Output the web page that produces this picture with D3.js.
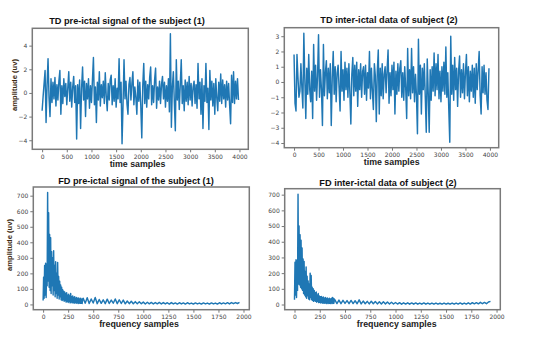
<!DOCTYPE html>
<html>
<head>
<meta charset="utf-8">
<script src="https://cdn.jsdelivr.net/npm/d3@7"></script>
<style>
  html, body { margin: 0; padding: 0; background: #fff; }
  svg { display: block; }
  .tick text { font-family: "DejaVu Sans", sans-serif; font-size: 6px; fill: #444; }
  .tick line { stroke: #777; }
  .domain { display: none; }
  .title, .xlab, .ylab { font-family: "Liberation Sans", Arial, sans-serif; font-weight: bold; }
</style>
</head>
<body>
<div id="chart"></div>
<script>
// time-domain signals, one value every TD_STEP samples
const TD_STEP = 20
const tdPre = [
  -1.5, -0.3, 0.8, 1.9, -2.5, 0.6, 2.9, -0.4, -2.0, 1.2,
  -0.8, 0.9, -0.5, 1.3, -1.1, 0.7, -0.6, 1.0, 1.9, -1.8,
  0.6, -0.9, 1.2, -0.3, 0.8, -1.0, 0.4, 1.8, -0.7, 0.9,
  -1.2, 0.5, 1.4, -0.8, 0.6, -3.9, 0.7, -0.9, 1.1, -3.0,
  0.4, 2.2, -0.6, 1.0, -2.0, 0.8, -0.5, 1.2, -1.3, 0.6,
  -0.8, 1.1, 3.0, -1.0, 0.5, -2.5, 0.9, -0.6, 1.8, -1.1,
  0.7, -0.4, 1.0, -0.9, 1.7, -0.3, -1.5, 0.8, -0.6, 1.1,
  1.5, -1.0, 0.6, -0.7, 1.2, -1.2, 0.4, -0.5, 2.9, -0.8,
  0.9, -4.3, -1.0, 2.8, -0.5, 1.0, -0.9, -1.8, 0.7, 1.3,
  -0.6, 0.8, 1.8, -1.0, 0.5, -0.4, -1.8, 1.1, -0.7, 0.9,
  -1.1, -3.8, 0.6, 2.5, -0.9, 1.0, -1.2, 0.7, -0.5, 1.3,
  2.2, -1.0, 0.6, -0.8, 1.1, 2.1, -1.3, 0.5, -0.6, 1.0,
  -0.9, 0.7, 1.4, -0.5, 0.9, -1.2, 0.6, -0.7, 1.2, -1.6,
  5.0, -2.9, 0.5, 1.8, -0.8, -3.2, 2.8, -0.6, 1.0, -1.4,
  0.7, 2.8, -0.9, 0.6, -1.5, 1.1, -0.7, 0.9, -1.0, 1.4,
  -0.6, 0.8, -1.1, 0.5, 1.0, -0.9, 0.7, -1.3, 2.5, -0.5,
  0.9, -1.8, 1.2, -3.0, 0.6, -0.7, 2.5, -0.8, 0.4, -3.1,
  1.9, -0.6, 1.0, -1.1, 0.8, -1.8, 1.2, -0.4, -1.5, 0.9,
  -0.7, 1.6, -0.9, 1.1, -0.5, 0.7, -1.2, 1.0, -0.6, 0.8,
  -1.0, -2.6, 1.5, -0.8, 1.8, -0.9, 1.0, -0.5, 1.2, -0.6
]
const tdInter = [
  1.8, -1.4, -1.9, 1.8, 0.3, -1.0, -0.6, 1.2, -0.4, -1.7,
  3.2, 0.2, -2.4, 0.9, -0.8, 1.8, -0.5, -1.3, 0.7, -2.4,
  2.45, -0.6, 1.1, -1.2, 0.4, 3.1, -1.0, 0.8, -0.5, -2.85,
  2.45, -0.9, 0.6, 1.4, -1.1, 0.9, -0.7, 1.2, -2.85, 0.3,
  2.0, -0.8, 1.0, -1.3, 0.6, 1.1, -0.4, -1.9, 2.0, -0.6,
  0.8, -1.2, 1.3, -0.5, 0.9, -1.0, 1.2, -0.7, -2.75, 0.5,
  1.6, -0.9, 1.1, -0.6, 1.3, -1.6, 0.8, -0.5, 1.2, -1.0,
  0.7, 1.0, -0.8, 1.1, -1.2, 0.6, -0.4, 2.0, -1.1, 0.9,
  -0.6, -1.8, 1.2, 0.4, -2.6, 0.7, 2.1, -2.1, 0.9, -0.9,
  1.2, -1.1, 0.5, 1.0, -0.7, 0.8, 2.1, -1.4, 0.6, -0.9,
  1.1, -0.5, 1.3, -2.1, 0.7, -0.8, 1.2, -0.6, 0.9, 1.4,
  -1.0, 0.6, -1.2, 1.0, -0.4, -2.4, 2.2, -0.9, 0.8, -1.1,
  2.2, -0.7, 1.0, -1.3, 0.5, -0.9, -3.4, 2.8, -0.8, 1.1,
  -2.1, 0.9, -0.5, 1.2, -1.0, -3.3, 1.5, -0.7, -3.3, 0.8,
  -1.2, 1.0, -0.6, 1.9, -0.9, 1.2, -0.5, 1.8, -1.1, 0.7,
  -1.3, 1.0, -0.6, 1.3, -0.8, 2.3, -1.0, 0.6, -1.8, -3.95,
  3.0, -0.8, 1.1, -1.2, 1.6, -0.5, 0.9, -1.6, 0.7, 1.7,
  -1.0, 0.8, -0.7, 1.2, -1.1, 0.6, 1.8, -0.9, 1.0, -1.3,
  0.7, -0.6, 1.1, -1.0, 0.9, -1.4, 1.2, -0.5, 0.8, 2.0,
  -0.9, -2.1, 1.0, -0.7, 1.1, -0.8, 0.6, -1.2, -1.8, 0.9
]

// frequency-domain spectra: fine steps near the peak, coarse steps in the tail
const HEAD_STEP = 5
const TAIL_START = 400
const TAIL_STEP = 20
const fdPreHead = [
  25, 175, 40, 250, 60, 265, 45, 260, 120, 720,
  150, 590, 110, 450, 90, 430, 70, 340, 120, 300,
  60, 345, 90, 250, 50, 275, 70, 200, 40, 270,
  60, 180, 35, 150, 50, 125, 30, 110, 25, 95,
  30, 85, 20, 80, 25, 70, 15, 75, 20, 60,
  12, 65, 18, 55, 10, 70, 15, 50, 10, 55,
  12, 45, 8, 50, 12, 40, 8, 45, 10, 38,
  6, 42, 9, 35, 7, 40, 8, 33, 6, 37
]
const fdPreTail = [
  40, 8, 43, 6, 35, 9, 45, 5, 32, 7,
  30, 5, 34, 6, 28, 8, 35, 5, 30, 6,
  28, 4, 22, 5, 20, 4, 18, 5, 17, 4,
  15, 3, 14, 4, 13, 3, 12, 4, 13, 3,
  12, 3, 11, 2, 12, 3, 10, 2, 11, 3,
  10, 2, 11, 3, 9, 2, 10, 3, 9, 2,
  10, 3, 9, 2, 10, 3, 9, 2, 11, 3,
  10, 4, 11, 3, 12, 5, 12, 6, 13
]
const fdInterHead = [
  30, 270, 60, 285, 45, 280, 90, 703, 130, 500,
  125, 445, 110, 410, 100, 360, 90, 290, 70, 275,
  60, 210, 50, 240, 40, 180, 55, 150, 35, 130,
  30, 200, 45, 185, 30, 110, 25, 100, 20, 90,
  25, 75, 20, 80, 15, 60, 20, 70, 12, 55,
  15, 50, 10, 52, 12, 45, 8, 48, 10, 40,
  8, 45, 10, 38, 6, 42, 9, 35, 7, 40,
  8, 36, 6, 38, 9, 45, 7, 40, 8, 35
]
const fdInterTail = [
  30, 6, 28, 5, 27, 7, 25, 5, 26, 6,
  24, 5, 30, 4, 22, 5, 20, 4, 21, 5,
  19, 4, 18, 3, 17, 4, 16, 3, 15, 3,
  13, 3, 12, 2, 11, 3, 11, 2, 10, 2,
  10, 2, 9, 2, 10, 2, 9, 2, 9, 2,
  9, 2, 8, 2, 9, 2, 8, 2, 9, 2,
  9, 3, 10, 2, 9, 3, 11, 3, 12, 4,
  12, 4, 14, 5, 13, 5, 16, 20
]

const tdTicksX = d3.range(0, 4001, 500)
const fdTicksX = d3.range(0, 2001, 250)
const tdPreTicksY = [-4, -2, 0, 2, 4]
const tdInterTicksY = [-4, -3, -2, -1, 0, 1, 2, 3]
const fdTicksY = d3.range(0, 701, 100)

const toTd = vals => vals.map((v, i) => [i * TD_STEP, v])
const toFd = (head, tail) => head.map((v, i) => [i * HEAD_STEP, v])
	.concat(tail.map((v, i) => [TAIL_START + i * TAIL_STEP, v]))

const width = 544
const height = 338
const BLUE = '#1f77b4'
const FRAME = '#7a7a7a'

const svg = d3.select('#chart')
	.append('svg')
		.attr('width', width)
		.attr('height', height)
svg.append('rect').attr('width', width).attr('height', height).attr('fill', '#fff')

// matplotlib style 5% padding on the data range
const padded = ([a, b]) => [a - (b - a) * 0.05, b + (b - a) * 0.05]

const panels = [
	{ data: toTd(tdPre), box: [32.3, 28.3, 248.3, 149.3], ticksX: tdTicksX, ticksY: tdPreTicksY,
	  title: 'TD pre-ictal signal of the subject (1)', titlePos: [127, 24],
	  xlab: 'time samples', xlabPos: [137.5, 166.5], ylabPos: [14.5, 85] },
	{ data: toTd(tdInter), box: [284.3, 27.7, 498.7, 147.7], ticksX: tdTicksX, ticksY: tdInterTicksY,
	  title: 'TD inter-ictal data of subject (2)', titlePos: [389, 22.5],
	  xlab: 'time samples', xlabPos: [391.7, 165] },
	{ data: toFd(fdPreHead, fdPreTail), box: [33.3, 187, 249.3, 309.7], ticksX: fdTicksX, ticksY: fdTicksY,
	  title: 'FD pre-ictal signal of the  subject (1)', titlePos: [136, 184],
	  xlab: 'frequency samples', xlabPos: [139, 326.5], ylabPos: [9, 245] },
	{ data: toFd(fdInterHead, fdInterTail), box: [284.7, 188.7, 500.3, 309.7], ticksX: fdTicksX, ticksY: fdTicksY,
	  title: 'FD inter-ictal data of subject (2)', titlePos: [388, 185.5],
	  xlab: 'frequency samples', xlabPos: [396.7, 326.5] }
]

panels.forEach((p, k) => {
	const [x0, y0, x1, y1] = p.box
	const x = d3.scaleLinear().domain(padded(d3.extent(p.data, d => d[0]))).range([x0, x1])
	const y = d3.scaleLinear().domain(padded(d3.extent(p.data, d => d[1]))).range([y1, y0])
	const g = svg.append('g')

	g.append('clipPath').attr('id', 'clip' + k)
		.append('rect').attr('x', x0).attr('y', y0).attr('width', x1 - x0).attr('height', y1 - y0)

	g.append('path')
		.datum(p.data)
		.attr('clip-path', `url(#clip${k})`)
		.attr('fill', 'none')
		.attr('stroke', BLUE)
		.attr('stroke-width', 1.45)
		.attr('stroke-linejoin', 'round')
		.attr('d', d3.line().x(d => x(d[0])).y(d => y(d[1])))

	g.append('g')
		.attr('transform', `translate(0,${y1})`)
		.call(d3.axisBottom(x).tickValues(p.ticksX).tickSize(3).tickPadding(2).tickFormat(d3.format('d')))
	g.append('g')
		.attr('transform', `translate(${x0},0)`)
		.call(d3.axisLeft(y).tickValues(p.ticksY).tickSize(3).tickPadding(2).tickFormat(d => d < 0 ? '\u2212' + (-d) : d))

	g.append('rect')
		.attr('x', x0).attr('y', y0)
		.attr('width', x1 - x0).attr('height', y1 - y0)
		.attr('fill', 'none')
		.attr('stroke', FRAME)
		.attr('stroke-width', 1.5)

	g.append('text').attr('class', 'title')
		.attr('x', p.titlePos[0]).attr('y', p.titlePos[1])
		.attr('text-anchor', 'middle').attr('font-size', 9.2).attr('fill', '#111')
		.text(p.title)
	g.append('text').attr('class', 'xlab')
		.attr('x', p.xlabPos[0]).attr('y', p.xlabPos[1])
		.attr('text-anchor', 'middle').attr('font-size', 8.8).attr('fill', '#222')
		.text(p.xlab)
	if (p.ylabPos) {
		g.append('text').attr('class', 'ylab')
			.attr('transform', `translate(${p.ylabPos[0]},${p.ylabPos[1]}) rotate(-90)`)
			.attr('text-anchor', 'middle').attr('dy', '0.35em')
			.attr('font-size', 7.6).attr('fill', '#3d2b12')
			.text('amplitude (uv)')
	}
})
</script>
</body>
</html>
